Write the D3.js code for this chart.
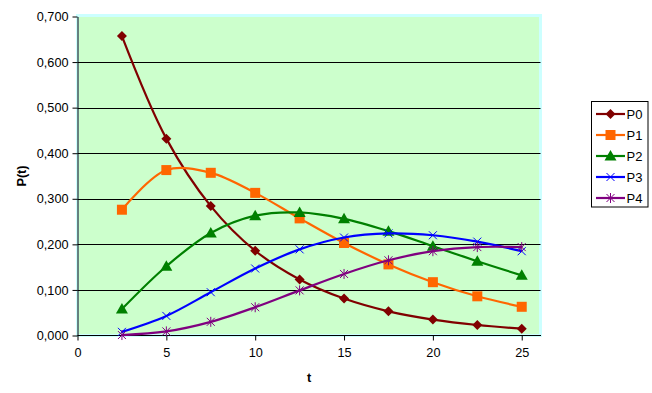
<!DOCTYPE html>
<html><head><meta charset="utf-8">
<script src="https://cdn.jsdelivr.net/npm/d3@7"></script>
<style>body{margin:0;background:#fff}svg{display:block}</style>
</head><body>
<svg id="c" width="652" height="393"></svg>
<script>
const tValues = [2.5, 5, 7.5, 10, 12.5, 15, 17.5, 20, 22.5, 25];
const seriesNames = ["P0", "P1", "P2", "P3", "P4"];
const P0 = [0.657, 0.432, 0.284, 0.186, 0.123, 0.081, 0.053, 0.035, 0.023, 0.015];
const P1 = [0.276, 0.363, 0.357, 0.313, 0.257, 0.203, 0.156, 0.117, 0.086, 0.063];
const P2 = [0.058, 0.152, 0.225, 0.263, 0.270, 0.256, 0.229, 0.196, 0.163, 0.132];
const P3 = [0.008, 0.043, 0.095, 0.147, 0.189, 0.215, 0.224, 0.220, 0.206, 0.185];
const P4 = [0.001, 0.009, 0.030, 0.062, 0.099, 0.135, 0.165, 0.185, 0.194, 0.194];
const xTicks = [0, 5, 10, 15, 20, 25];
const yTicks = [0, 0.1, 0.2, 0.3, 0.4, 0.5, 0.6, 0.7];
const colors = ["#800000", "#FF6600", "#008000", "#0000FF", "#800080"];
const markers = ["diamond", "square", "triangle", "x", "star"];
const allSeries = [P0, P1, P2, P3, P4];

const svg = d3.select("#c");
const L = 77.5, R = 539.5, T = 16.5, B = 335.5;
const x = d3.scaleLinear().domain([0, 26]).range([L, R]);
const y = d3.scaleLinear().domain([0, 0.7]).range([B, T]);
const FONT = "Arial, 'Liberation Sans', sans-serif";

// plot area
svg.append("rect").attr("x", L).attr("y", T - 1).attr("width", R - L + 1).attr("height", B - T + 1)
  .attr("fill", "#CCFFCC").attr("stroke", "#CCFFFF").attr("stroke-width", 3);

// gridlines
svg.append("g").selectAll("line").data(yTicks.filter(d => d > 0 && d < 0.7)).join("line")
  .attr("x1", L).attr("x2", R + 1).attr("y1", d => Math.round(y(d)) + 0.5).attr("y2", d => Math.round(y(d)) + 0.5)
  .attr("stroke", "#000").attr("stroke-width", 1);

const fmt = d => d3.format(".3f")(d).replace(".", ",");
const yAxis = svg.append("g").attr("transform", `translate(${L},0)`)
  .call(d3.axisLeft(y).tickValues(yTicks).tickFormat(fmt).tickSize(5).tickSizeOuter(0));
const xAxis = svg.append("g").attr("transform", `translate(0,${B})`)
  .call(d3.axisBottom(x).tickValues(xTicks).tickFormat(d => d).tickSize(5).tickSizeOuter(0));
[yAxis, xAxis].forEach(a => {
  a.selectAll("path,line").attr("stroke", "#000").attr("stroke-width", 1);
  a.selectAll("text").attr("fill", "#000").style("font-family", FONT).style("font-size", "12.7px");
});
yAxis.selectAll("text").attr("x", -9);
xAxis.selectAll("text").attr("y", 12);
xAxis.select(".domain").attr("d", `M${L},0H${R + 1.5}`);

// axis titles
svg.append("text").attr("transform", "translate(26,176) rotate(-90)").attr("text-anchor", "middle")
  .style("font-family", FONT).style("font-size", "12.7px").style("font-weight", "bold").text("P(t)");
svg.append("text").attr("x", 309).attr("y", 382).attr("text-anchor", "middle")
  .style("font-family", FONT).style("font-size", "12.7px").style("font-weight", "bold").text("t");

function drawMarker(g, type, cx, cy, color) {
  if (type === "diamond") {
    g.append("path").attr("d", `M${cx},${cy - 5}L${cx + 5},${cy}L${cx},${cy + 5}L${cx - 5},${cy}Z`).attr("fill", color);
  } else if (type === "square") {
    g.append("rect").attr("x", cx - 5).attr("y", cy - 5).attr("width", 10).attr("height", 10).attr("fill", color);
  } else if (type === "triangle") {
    g.append("path").attr("d", `M${cx},${cy - 6}L${cx + 6},${cy + 4.5}L${cx - 6},${cy + 4.5}Z`).attr("fill", color);
  } else if (type === "x") {
    g.append("path").attr("d", `M${cx - 4},${cy - 4}L${cx + 4},${cy + 4}M${cx - 4},${cy + 4}L${cx + 4},${cy - 4}`).attr("stroke", color).attr("stroke-width", 1);
  } else if (type === "star") {
    g.append("path").attr("d", `M${cx - 4},${cy - 4}L${cx + 4},${cy + 4}M${cx - 4},${cy + 4}L${cx + 4},${cy - 4}M${cx},${cy - 5}L${cx},${cy + 5}`).attr("stroke", color).attr("stroke-width", 1);
  }
}

const line = d3.line().x(d => x(d[0])).y(d => y(d[1])).curve(d3.curveCatmullRom.alpha(0.5));
allSeries.forEach((vals, i) => {
  const pts = tValues.map((t, j) => [t, vals[j]]);
  const g = svg.append("g");
  g.append("path").attr("d", line(pts)).attr("fill", "none").attr("stroke", colors[i]).attr("stroke-width", 2.2);
  pts.forEach(p => drawMarker(g, markers[i], x(p[0]), y(p[1]), colors[i]));
});

// legend
const lg = svg.append("g");
lg.append("rect").attr("x", 591.5).attr("y", 101.5).attr("width", 56.5).attr("height", 105.5).attr("fill", "#fff").attr("stroke", "#000").attr("stroke-width", 1);
seriesNames.forEach((n, i) => {
  const cy = 114 + i * 21;
  lg.append("line").attr("x1", 596).attr("x2", 625).attr("y1", cy).attr("y2", cy).attr("stroke", colors[i]).attr("stroke-width", 2.2);
  drawMarker(lg, markers[i], 610.5, cy, colors[i]);
  lg.append("text").attr("x", 626.5).attr("y", cy + 4.5).text(n)
    .style("font-family", FONT).style("font-size", "13px").attr("fill", "#000");
});
</script>
</body></html>
